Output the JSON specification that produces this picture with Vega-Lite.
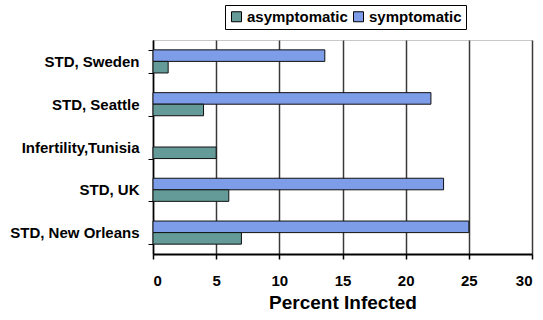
{
  "$schema": "https://vega.github.io/schema/vega-lite/v6.json",
  "width": 379,
  "height": 214,
  "autosize": "none",
  "padding": {"left": 153, "top": 40, "right": 11, "bottom": 66},
  "background": "white",
  "config": {
    "font": "Liberation Sans",
    "view": {"stroke": "#c8c8c8", "strokeWidth": 1}
  },
  "data": {
    "values": [
      {"setting": "STD, Sweden", "group": "symptomatic", "percent": 13.6},
      {"setting": "STD, Sweden", "group": "asymptomatic", "percent": 1.2},
      {"setting": "STD, Seattle", "group": "symptomatic", "percent": 22.0},
      {"setting": "STD, Seattle", "group": "asymptomatic", "percent": 4.0},
      {"setting": "Infertility,Tunisia", "group": "asymptomatic", "percent": 5.0},
      {"setting": "STD, UK", "group": "symptomatic", "percent": 23.0},
      {"setting": "STD, UK", "group": "asymptomatic", "percent": 6.0},
      {"setting": "STD, New Orleans", "group": "symptomatic", "percent": 25.0},
      {"setting": "STD, New Orleans", "group": "asymptomatic", "percent": 7.0}
    ]
  },
  "mark": {"type": "bar", "stroke": "#111", "strokeWidth": 1},
  "encoding": {
    "y": {
      "field": "setting",
      "type": "nominal",
      "sort": ["STD, Sweden", "STD, Seattle", "Infertility,Tunisia", "STD, UK", "STD, New Orleans"],
      "scale": {"paddingInner": 0.46, "paddingOuter": 0.23},
      "axis": {
        "title": null,
        "tickBand": "extent",
        "tickSize": 5,
        "tickColor": "#000",
        "domainColor": "#000",
        "domainWidth": 1.5,
        "labelPadding": 9,
        "labelFont": "Liberation Sans",
        "labelFontWeight": "bold",
        "labelFontSize": 15,
        "labelColor": "#000",
        "labelLimit": 200
      }
    },
    "yOffset": {
      "field": "group",
      "type": "nominal",
      "sort": ["symptomatic", "asymptomatic"],
      "scale": {"paddingInner": 0, "paddingOuter": 0}
    },
    "x": {
      "field": "percent",
      "type": "quantitative",
      "scale": {"domain": [0, 30], "nice": false},
      "axis": {
        "title": "Percent Infected",
        "values": [0, 5, 10, 15, 20, 25, 30],
        "grid": true,
        "gridColor": "#3a3a3a",
        "gridWidth": 1.5,
        "gridOpacity": 1,
        "tickSize": 5,
        "tickWidth": 1.5,
        "tickColor": "#000",
        "domainColor": "#000",
        "domainWidth": 2,
        "labelPadding": 14,
        "labelFont": "Liberation Sans",
        "labelFontWeight": "bold",
        "labelFontSize": 15,
        "labelColor": "#000",
        "titleFont": "Liberation Sans",
        "titleFontWeight": "bold",
        "titleFontSize": 19,
        "titleColor": "#000",
        "titlePadding": 5
      }
    },
    "color": {
      "field": "group",
      "type": "nominal",
      "scale": {"domain": ["asymptomatic", "symptomatic"], "range": ["#649b98", "#7d9de8"]},
      "legend": {
        "title": null,
        "orient": "none",
        "direction": "horizontal",
        "legendX": 72,
        "legendY": -35,
        "strokeColor": "#000",
        "fillColor": "#fff",
        "padding": 4,
        "symbolType": "square",
        "symbolSize": 100,
        "symbolStrokeColor": "#000",
        "symbolStrokeWidth": 1,
        "symbolOpacity": 1,
        "labelFont": "Liberation Sans",
        "labelFontWeight": "bold",
        "labelFontSize": 15,
        "labelColor": "#000",
        "labelOffset": 3,
        "columnPadding": 3
      }
    }
  }
}
